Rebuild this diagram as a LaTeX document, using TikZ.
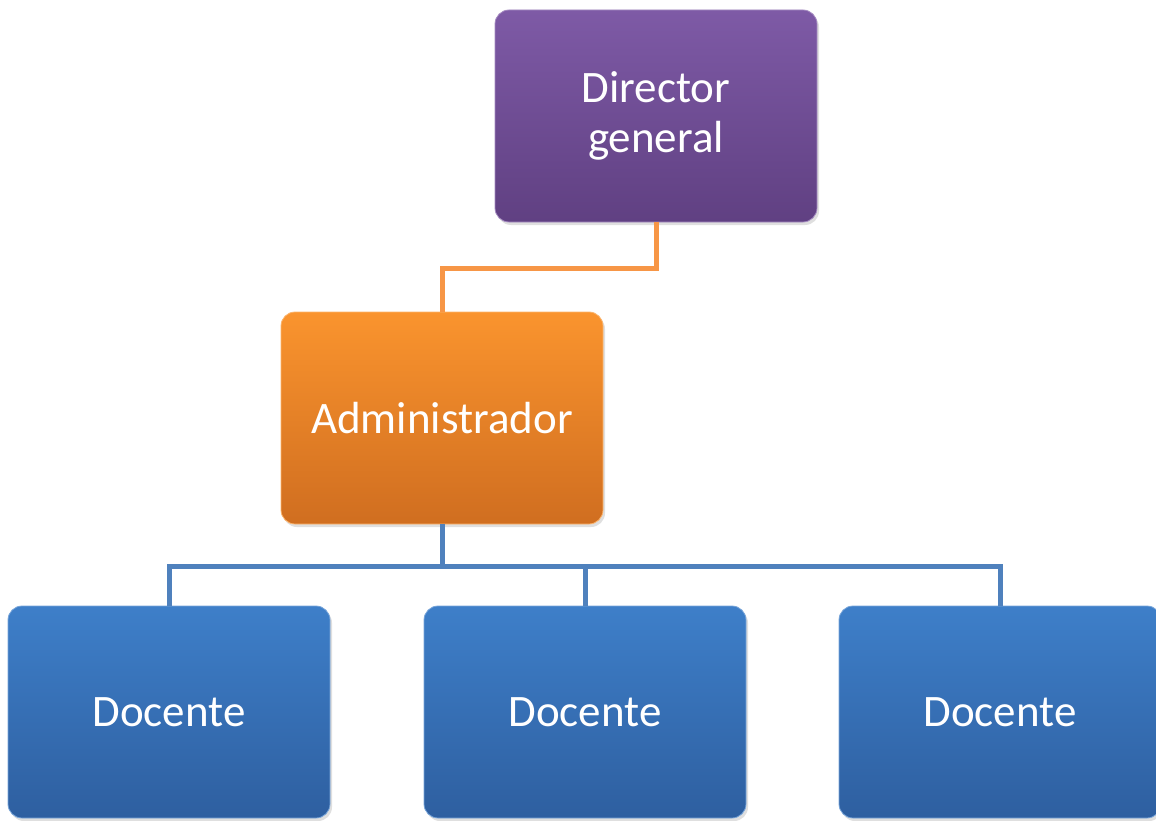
\documentclass[tikz,border=0pt]{standalone}
\usepackage{fontspec}
\setmainfont{Carlito}
\usetikzlibrary{shadows}
\definecolor{purpT}{RGB}{126,90,166}
\definecolor{purpB}{RGB}{96,64,130}
\definecolor{orT}{RGB}{250,148,46}
\definecolor{orB}{RGB}{208,110,32}
\definecolor{blT}{RGB}{62,127,201}
\definecolor{blB}{RGB}{46,95,160}
\definecolor{orLine}{RGB}{247,150,70}
\definecolor{blLine}{RGB}{79,129,189}
\tikzset{
  orgbox/.style={rectangle, rounded corners=14pt, minimum width=322pt, minimum height=212pt,
    inner sep=0pt, text=white, align=center,
    font=\fontsize{45pt}{50pt}\selectfont,
    drop shadow={shadow xshift=2pt, shadow yshift=-3pt, opacity=0.25}},
  purplebox/.style={orgbox, top color=purpT, bottom color=purpB, draw=purpT!70!white, line width=0.8pt},
  orangebox/.style={orgbox, top color=orT, bottom color=orB, draw=orT!70!white, line width=0.8pt},
  bluebox/.style={orgbox, top color=blT, bottom color=blB, draw=blT!70!white, line width=0.8pt},
  orconn/.style={draw=orLine, line width=5pt},
  blconn/.style={draw=blLine, line width=5pt},
}
\begin{document}
\begin{tikzpicture}[x=1pt,y=-1pt]
\useasboundingbox (0,0) rectangle (1156,821);
\node[purplebox] (dir) at (656,116) {Director\\general};
\node[orangebox] (adm) at (442,418) {Administrador};
\node[bluebox] (d1) at (169,712) {Docente};
\node[bluebox] (d2) at (585,712) {Docente};
\node[bluebox] (d3) at (1000,712) {Docente};
\coordinate (bend) at (656,268);
\coordinate (bus) at (442,566);
\draw[orconn] (dir.south) -- (bend) -| (adm.north);
\draw[blconn] (adm.south) -- (bus);
\draw[blconn] (d1.north) |- (bus) -| (d3.north);
\draw[blconn] (bus) -| (d2.north);
\end{tikzpicture}
\end{document}
